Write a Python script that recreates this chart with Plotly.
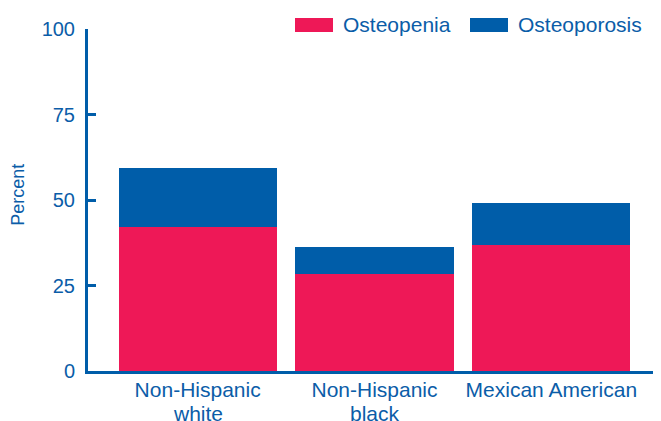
import plotly.graph_objects as go

categories = ["Non-Hispanic<br>white", "Non-Hispanic<br>black", "Mexican American"]
osteopenia = [42.2, 28.4, 36.9]
osteoporosis = [17.1, 7.9, 12.2]
y_ticks = [0, 25, 50, 75, 100]

PINK = "#EE1857"
BLUE = "#005DA9"
TEXT = "#0B5DA8"
FONT = "Liberation Sans, Arial, sans-serif"

x_idx = list(range(len(categories)))
first_lines = [c.split("<br>")[0] for c in categories]
second_lines = [c.split("<br>")[1] if "<br>" in c else "" for c in categories]

fig = go.Figure()
fig.add_trace(go.Bar(x=x_idx, y=osteopenia, name="Osteopenia",
                     marker=dict(color=PINK, line=dict(width=0))))
fig.add_trace(go.Bar(x=x_idx, y=osteoporosis, name="Osteoporosis",
                     marker=dict(color=BLUE, line=dict(width=0))))

# page body has an 8px default margin, so the figure is sized to fit the window
fig.update_layout(
    width=653, height=413,
    margin=dict(l=80, r=0, t=21, b=50),
    barmode="stack", bargap=0.105,
    plot_bgcolor="white", paper_bgcolor="white",
    showlegend=False,
    font=dict(family=FONT, color=TEXT, size=20),
)
fig.update_xaxes(
    tickvals=x_idx, ticktext=first_lines, range=[-0.62, 2.62],
    showline=True, linecolor=BLUE, linewidth=3, showgrid=False,
    ticks="", tickfont=dict(size=21, color=TEXT), zeroline=False,
    automargin=False, ticklabelstandoff=-2,
)
fig.update_yaxes(
    range=[0, 100], tickvals=y_ticks, showline=True, linecolor=BLUE, linewidth=3,
    ticks="inside", ticklen=8, tickwidth=3, tickcolor=BLUE,
    showgrid=False, zeroline=False, automargin=False,
    tickfont=dict(size=20, color=TEXT), ticklabelstandoff=6,
)

# second lines of the category labels (tight line spacing as in the reference)
for xi, txt in zip(x_idx, second_lines):
    if txt:
        fig.add_annotation(text=txt, x=xi, xref="x", yref="paper", y=-0.085,
                           xanchor="center", yanchor="top", showarrow=False,
                           font=dict(size=21, color=TEXT))

# y-axis title
fig.add_annotation(text="Percent", xref="paper", yref="paper",
                   x=(18 - 88) / 573, y=0.515, textangle=-90,
                   xanchor="center", yanchor="middle", showarrow=False,
                   font=dict(size=18, color=TEXT))

# Custom legend (wide swatches) placed above the plot area
legend_items = [("Osteopenia", PINK, (295 - 88) / 573), ("Osteoporosis", BLUE, (470 - 88) / 573)]
for name, color, x0 in legend_items:
    fig.add_shape(type="rect", xref="paper", yref="paper",
                  x0=x0, x1=x0 + 38 / 573, y0=(371 - 32) / 342, y1=(371 - 18) / 342,
                  fillcolor=color, line=dict(width=0))
    fig.add_annotation(text=name, xref="paper", yref="paper",
                       x=x0 + 46 / 573, y=(371 - 24) / 342, xanchor="left", yanchor="middle",
                       showarrow=False, font=dict(size=21, color=TEXT))

fig.write_html("out.html")
